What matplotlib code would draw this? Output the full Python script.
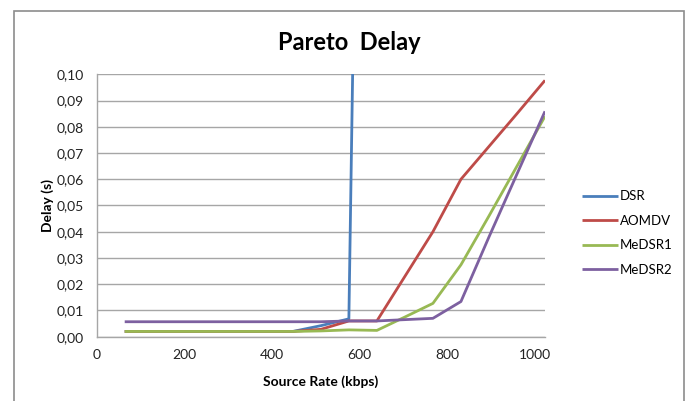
import matplotlib.pyplot as plt
from matplotlib.patches import Rectangle
from matplotlib.ticker import FuncFormatter

# source rate in kbps (multiples of 64)
rate = [64, 128, 192, 256, 320, 384, 448, 512, 576, 640, 704, 768, 832, 896, 960, 1024]

# delay in seconds
dsr = [0.002, 0.002, 0.002, 0.002, 0.002, 0.002, 0.002, 0.0042, 0.0068, 0.70]
aomdv = [0.002, 0.002, 0.002, 0.002, 0.002, 0.002, 0.002, 0.0028, 0.006, 0.006,
         0.023, 0.040, 0.060, 0.0725, 0.085, 0.0977]
medsr1 = [0.002, 0.002, 0.002, 0.002, 0.002, 0.002, 0.002, 0.0022, 0.0026, 0.0024,
          0.0075, 0.0127, 0.0274, 0.046, 0.065, 0.084]
medsr2 = [0.0057, 0.0057, 0.0057, 0.0057, 0.0057, 0.0057, 0.0057, 0.0057, 0.006, 0.006,
          0.0065, 0.007, 0.0134, 0.038, 0.062, 0.0859]

series = [
    ("DSR", dsr, "#4a7ebb"),
    ("AOMDV", aomdv, "#be4b48"),
    ("MeDSR1", medsr1, "#98b954"),
    ("MeDSR2", medsr2, "#7d60a0"),
]

plt.rcParams["font.family"] = ["Lato", "DejaVu Sans"]

W, H = 686, 401
fig = plt.figure(figsize=(W / 100, H / 100), dpi=100)

# outer chart frame
fig.patches.append(Rectangle((14 / W, -0.05), (684 - 14) / W, 1.05 - 11 / H,
                             transform=fig.transFigure, fill=False,
                             edgecolor="#8c8c8c", linewidth=1.2))

ax = fig.add_axes([96.7 / W, 1 - 336.7 / H, (545 - 96.7) / W, (336.7 - 74.3) / H])

for name, vals, col in series:
    ax.plot(rate[:len(vals)], vals, color=col, linewidth=2.0, label=name,
            solid_capstyle="butt")

ax.set_xlim(0, 1024)
ax.set_ylim(0, 0.10)
ax.set_xticks(range(0, 1001, 200))
ax.set_yticks([i / 100 for i in range(11)])
ax.yaxis.set_major_formatter(FuncFormatter(lambda v, p: f"{v:.2f}".replace(".", ",")))
ax.grid(axis="y", color="#a6a6a6", linewidth=1.0)
ax.set_axisbelow(True)
for s in ("top", "right"):
    ax.spines[s].set_visible(False)
for s in ("left", "bottom"):
    ax.spines[s].set_color("#a6a6a6")
    ax.spines[s].set_linewidth(1.0)
ax.tick_params(length=0, labelsize=10, colors="#222222", pad=9)

fig.text(349 / W, 1 - 42 / H, "Pareto  Delay", fontsize=17, fontweight="bold",
         ha="center", va="center")
ax.set_xlabel("Source Rate (kbps)", fontsize=10, fontweight="bold", labelpad=10)
ax.set_ylabel("Delay (s)", fontsize=10, fontweight="bold", labelpad=2)

ax.legend(loc="center left", bbox_to_anchor=(1.055, 0.395), frameon=False,
          fontsize=9.5, handlelength=2.8, handletextpad=0.1, labelspacing=0.95)

fig.savefig("out.png", dpi=100)
